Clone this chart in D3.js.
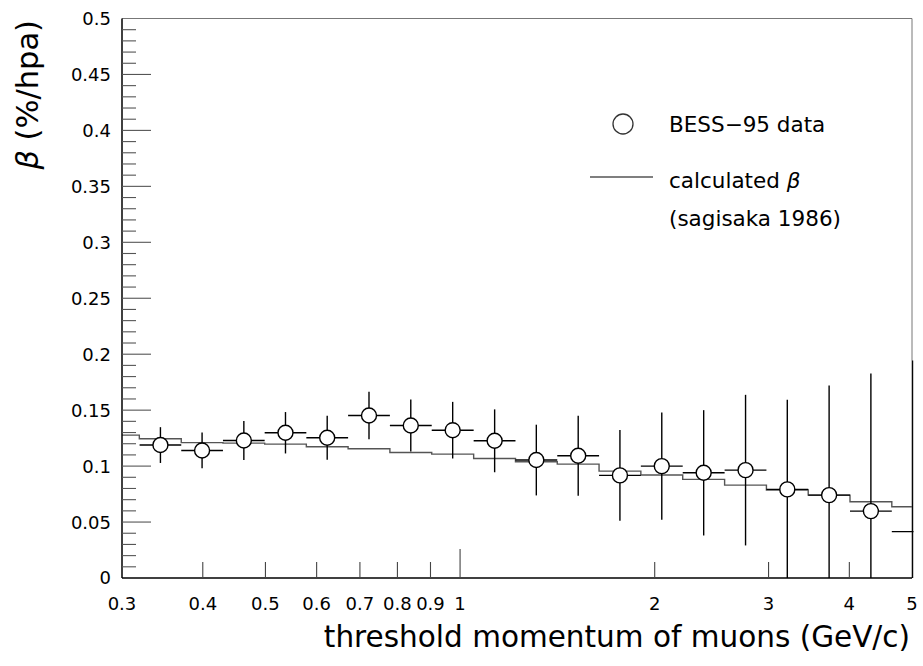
<!DOCTYPE html>
<html>
<head>
<meta charset="utf-8">
<script src="https://cdn.jsdelivr.net/npm/d3@7"></script>
<style>
  body { margin: 0; background: #fff; }
  svg { font-family: "DejaVu Sans", sans-serif; }
</style>
</head>
<body>
<div id="chart"></div>
<script>
// bin centres of the measurement (GeV/c), last one sits on the right edge
const momentum = [0.344, 0.399, 0.463, 0.537, 0.623, 0.723, 0.839, 0.974, 1.131, 1.312,
                  1.523, 1.767, 2.051, 2.381, 2.764, 3.207, 3.722, 4.319, 5.013]
// BESS-95 measured beta (%/hpa) and its error
const betaData = [0.1188, 0.1140, 0.1229, 0.1298, 0.1253, 0.1452, 0.1363, 0.1321, 0.1226, 0.1054,
                  0.1092, 0.0917, 0.1000, 0.0940, 0.0964, 0.0792, 0.0741, 0.0598, 0.0414]
const betaErr = [0.016, 0.016, 0.0174, 0.0185, 0.0196, 0.0213, 0.0232, 0.0253, 0.0281, 0.0316,
                 0.0357, 0.0405, 0.0479, 0.056, 0.0673, 0.080, 0.098, 0.123, 0.153]
// calculated beta (sagisaka 1986), one value per bin, first bin is left of the first point
const calcCentres = [0.296].concat(momentum)
const calcBeta = [0.1277, 0.1244, 0.1210, 0.1205, 0.1196, 0.1173, 0.1155, 0.1122, 0.1107, 0.1068,
                  0.1039, 0.1018, 0.0955, 0.0920, 0.0881, 0.0830, 0.0786, 0.0741, 0.0682, 0.0637]

const xTicks = [0.3, 0.4, 0.5, 0.6, 0.7, 0.8, 0.9, 1, 2, 3, 4, 5]
const yTicks = [0, 0.05, 0.1, 0.15, 0.2, 0.25, 0.3, 0.35, 0.4, 0.45, 0.5]

const dimensions = { width: 923, height: 666 }
const plot = { left: 122, right: 912, top: 18.5, bottom: 578 }

const svg = d3.select('#chart')
    .append('svg')
    .attr('width', dimensions.width)
    .attr('height', dimensions.height)

const x = d3.scaleLog().domain([0.3, 5]).range([plot.left, plot.right])
const y = d3.scaleLinear().domain([0, 0.5]).range([plot.bottom, plot.top])

// bin edges: geometric midpoints between neighbouring centres
function edges(centres, i) {
    const c = centres[i]
    const prev = i > 0 ? centres[i - 1] : c * c / centres[i + 1]
    const next = i < centres.length - 1 ? centres[i + 1] : c * c / centres[i - 1]
    return [Math.sqrt(prev * c), Math.sqrt(c * next)]
}

svg.append('clipPath').attr('id', 'clip')
    .append('rect')
    .attr('x', plot.left).attr('y', plot.top)
    .attr('width', plot.right - plot.left + 1.5)
    .attr('height', plot.bottom - plot.top)

// frame (top and right)
svg.append('path')
    .attr('d', `M${plot.left},${plot.top}H${plot.right}V${plot.bottom}`)
    .attr('fill', 'none')
    .attr('stroke', '#777')
    .attr('stroke-width', 1)

const g = svg.append('g').attr('clip-path', 'url(#clip)')

// calculated beta as a step line
const steps = []
calcCentres.forEach((c, i) => {
    const [lo, hi] = edges(calcCentres, i)
    steps.push([Math.max(lo, 0.3), calcBeta[i]])
    if (i === calcCentres.length - 1) steps.push([Math.min(hi, 5), calcBeta[i]])
})
g.append('path')
    .datum(steps)
    .attr('fill', 'none')
    .attr('stroke', '#555')
    .attr('stroke-width', 1.4)
    .attr('d', d3.line().x(d => x(d[0])).y(d => y(d[1])).curve(d3.curveStepAfter))

// data points with error bars
const points = momentum.map((m, i) => {
    const [lo, hi] = edges(momentum, i)
    return { m, lo, hi, v: betaData[i], e: betaErr[i] }
})

const pt = g.selectAll('g.pt')
    .data(points)
    .join('g')
    .attr('class', 'pt')
    .attr('stroke', '#000')
    .attr('stroke-width', 1.4)

pt.append('line')
    .attr('x1', d => x(d.lo)).attr('x2', d => x(d.hi))
    .attr('y1', d => y(d.v)).attr('y2', d => y(d.v))
pt.append('line')
    .attr('x1', d => x(d.m)).attr('x2', d => x(d.m))
    .attr('y1', d => y(d.v + d.e)).attr('y2', d => y(Math.max(0, d.v - d.e)))
// markers only inside the axis range
pt.filter(d => d.m <= 5).append('circle')
    .attr('cx', d => x(d.m))
    .attr('cy', d => y(d.v))
    .attr('r', 7.5)
    .attr('fill', '#fff')

// y axis
svg.append('line')
    .attr('x1', plot.left).attr('x2', plot.left)
    .attr('y1', plot.top).attr('y2', plot.bottom)
    .attr('stroke', '#000').attr('stroke-width', 1.5)
svg.append('g')
    .selectAll('line')
    .data(d3.range(1, 50).map(i => i / 100))
    .join('line')
    .attr('x1', plot.left)
    .attr('x2', d => plot.left + (Math.round(d * 100) % 5 === 0 ? 29 : 14))
    .attr('y1', d => y(d)).attr('y2', d => y(d))
    .attr('stroke', '#555').attr('stroke-width', 1.1)
svg.append('g')
    .selectAll('text')
    .data(yTicks)
    .join('text')
    .attr('x', 111)
    .attr('y', d => y(d))
    .attr('dy', '0.36em')
    .attr('text-anchor', 'end')
    .attr('font-size', 18)
    .text(d => d)

// x axis
svg.append('line')
    .attr('x1', plot.left).attr('x2', plot.right)
    .attr('y1', plot.bottom).attr('y2', plot.bottom)
    .attr('stroke', '#000').attr('stroke-width', 1.5)
svg.append('g')
    .selectAll('line')
    .data(xTicks.filter(d => d > 0.3 && d < 5))
    .join('line')
    .attr('x1', d => x(d)).attr('x2', d => x(d))
    .attr('y1', plot.bottom)
    .attr('y2', d => plot.bottom - (d === 1 ? 29 : 16))
    .attr('stroke', '#444').attr('stroke-width', 1.1)
svg.append('g')
    .selectAll('text')
    .data(xTicks)
    .join('text')
    .attr('x', d => x(d))
    .attr('y', 610)
    .attr('text-anchor', 'middle')
    .attr('font-size', 18)
    .text(d => d)

// axis titles
svg.append('text')
    .attr('x', 910).attr('y', 647)
    .attr('text-anchor', 'end')
    .attr('font-size', 29.5)
    .text('threshold momentum of muons (GeV/c)')
svg.append('text')
    .attr('transform', 'translate(38,20) rotate(-90)')
    .attr('text-anchor', 'end')
    .attr('font-size', 30.5)
    .call(t => {
        t.append('tspan').attr('font-style', 'italic').text('β')
        t.append('tspan').text(' (%/hpa)')
    })

// legend
const legend = svg.append('g').attr('font-size', 21.5)
legend.append('circle')
    .attr('cx', 623).attr('cy', 124).attr('r', 10)
    .attr('fill', '#fff').attr('stroke', '#333').attr('stroke-width', 1.3)
legend.append('text').attr('x', 669).attr('y', 132).text('BESS−95 data')
legend.append('line')
    .attr('x1', 590).attr('x2', 653).attr('y1', 177).attr('y2', 177)
    .attr('stroke', '#555').attr('stroke-width', 1.4)
legend.append('text').attr('x', 669).attr('y', 188)
    .call(t => {
        t.append('tspan').text('calculated ')
        t.append('tspan').attr('font-style', 'italic').text('β')
    })
legend.append('text').attr('x', 669).attr('y', 226).text('(sagisaka 1986)')
</script>
</body>
</html>
